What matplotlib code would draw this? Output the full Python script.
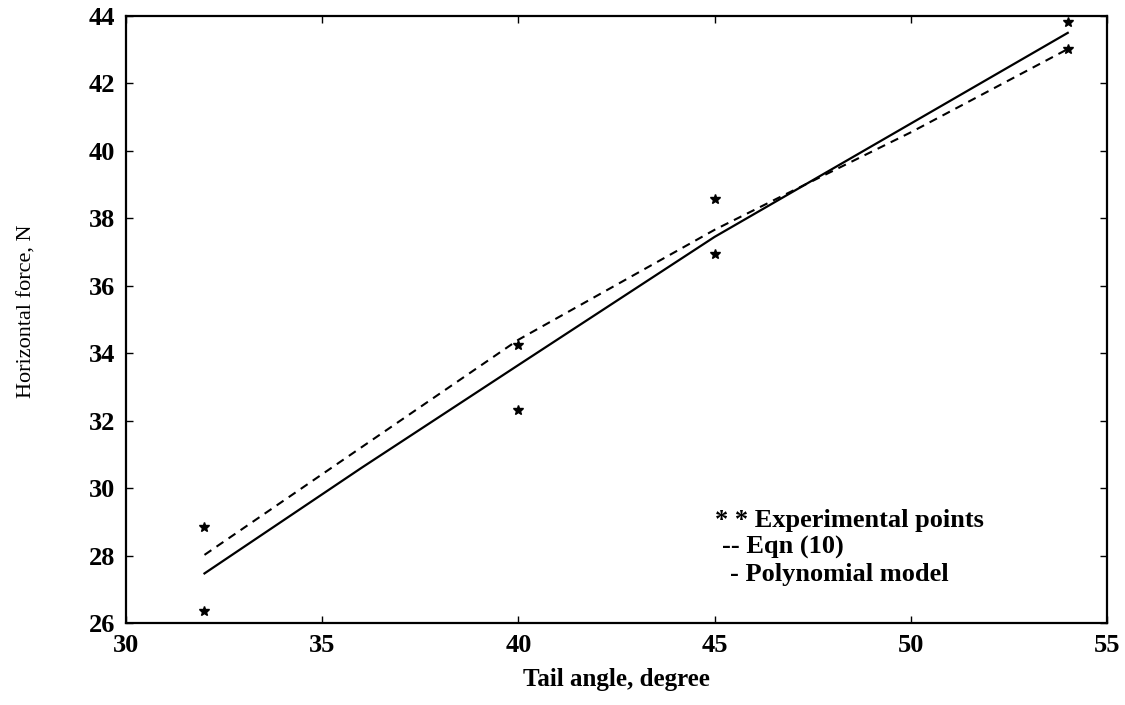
import numpy as np
import matplotlib
matplotlib.use("Agg")
import matplotlib.pyplot as plt

# experimental points (two repeats per angle)
exp_angle = [32, 32, 40, 40, 45, 45, 54, 54]
exp_force = [28.86, 26.37, 34.23, 32.32, 38.57, 36.95, 43.83, 43.03]

# Eqn (10)
eqn_angle = [32, 40, 45, 46.7, 50, 54]
eqn_force = [28.02, 34.4, 37.66, 38.65, 40.55, 43.02]

# polynomial model
poly_angle = [32, 36, 40, 45, 48.2, 54]
poly_force = [27.47, 30.6, 33.65, 37.45, 39.6, 43.5]

legend_lines = ['* * Experimental points', '-- Eqn (10)', '- Polynomial model']

plt.rcParams['font.family'] = ['Liberation Serif', 'DejaVu Serif']

W, H = 1125, 705
fig = plt.figure(figsize=(W / 100, H / 100), dpi=100)
ax = fig.add_axes([126 / W, 1 - 623 / H, 981 / W, 607 / H])

ax.plot(exp_angle, exp_force, linestyle='none', marker='*', markersize=7, color='black')
ax.plot(eqn_angle, eqn_force, color='black', linestyle=(0, (4, 3)), linewidth=1.5)
ax.plot(poly_angle, poly_force, color='black', linestyle='-', linewidth=1.6)

ax.set_xlim(30, 55)
ax.set_ylim(26, 44)
ax.set_xticks(np.arange(30, 56, 5))
ax.set_yticks(np.arange(26, 45, 2))
ax.tick_params(direction='in', top=True, right=True, length=5, width=1,
               labelsize=19, pad=8)
for lab in ax.get_xticklabels() + ax.get_yticklabels():
    lab.set_fontweight('bold')
for s in ax.spines.values():
    s.set_linewidth(1.6)

ax.set_xlabel('Tail angle, degree', fontsize=18, fontweight='bold')
ax.xaxis.set_label_coords(0.5, (623 - 668) / 607)
ax.set_ylabel('Horizontal force, N', fontsize=16)
ax.yaxis.set_label_coords((37 - 126) / 981, (623 - 311) / 607)

# text legend as in the original figure
leg_x = [715, 722, 730]
leg_y = [521, 547, 574]
for txt, lx, ly in zip(legend_lines, leg_x, leg_y):
    fig.text(lx / W, 1 - ly / H, txt, fontsize=19, fontweight='bold', va='center')

fig.savefig('out.png', dpi=100)
